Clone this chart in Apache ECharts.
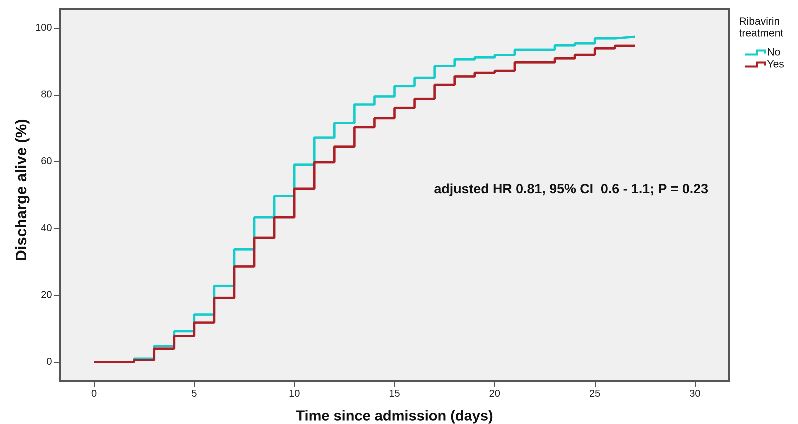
<!DOCTYPE html>
<html>
<head>
<meta charset="utf-8">
<script src="https://cdn.jsdelivr.net/npm/echarts@6/dist/echarts.min.js"></script>
<style>
  html, body { margin: 0; padding: 0; background: #fff; }
  #chart { width: 798px; height: 424px; }
</style>
</head>
<body>
<div id="chart"></div>
<script>
// time points (days) where the curves step
const days = [0, 2, 3, 4, 5, 6, 7, 8, 9, 10, 11, 12, 13, 14, 15, 16, 17, 18, 19, 20, 21, 23, 24, 25, 26, 27];
// cumulative discharge alive (%) — Ribavirin: No
const noValues = [0, 1.0, 4.8, 9.2, 14.2, 22.8, 33.7, 43.3, 49.7, 59.1, 67.2, 71.6, 77.1, 79.5, 82.6, 85.1, 88.6, 90.6, 91.2, 91.9, 93.5, 94.8, 95.4, 96.9, 97.4, 97.4];
// Ribavirin: Yes
const yesValues = [0, 0.6, 4.0, 7.8, 11.8, 19.2, 28.6, 37.2, 43.3, 51.9, 59.8, 64.5, 70.3, 73.0, 76.1, 78.8, 83.0, 85.5, 86.6, 87.2, 89.7, 90.9, 92.0, 93.9, 94.7, 94.7];
const xTicks = [0, 5, 10, 15, 20, 25, 30];
const yTicks = [0, 20, 40, 60, 80, 100];

const font = 'Arial, "Liberation Sans", sans-serif';
const stepIcon = 'path://M0,4 L11,4 L11,0 L21,0 L21,4 L19,4 L19,2 L13,2 L13,6 L0,6 Z';

// higher dpr so zrender doesn't swallow the tiny 1-2px steps
const chart = echarts.init(document.getElementById('chart'), null, { devicePixelRatio: 4 });
chart.setOption({
  animation: false,
  textStyle: { fontFamily: font },
  grid: {
    left: 60, right: 69, top: 9, bottom: 43,
    outerBoundsMode: 'none', containLabel: false,
    show: true, backgroundColor: '#F0F0F0', borderColor: '#555', borderWidth: 1.5,
  },
  legend: {
    orient: 'vertical',
    left: 740, top: 42,
    itemWidth: 21, itemHeight: 6, itemGap: 1,
    textStyle: { fontSize: 10.5, lineHeight: 11, color: '#111', padding: [0, 0, 0, -4] },
    data: [
      { name: 'No', icon: stepIcon },
      { name: 'Yes', icon: stepIcon },
    ],
  },
  graphic: [
    {
      type: 'text', left: 739, top: 16,
      style: { text: 'Ribavirin\ntreatment', font: '10.5px ' + font, fill: '#111', align: 'center', lineHeight: 11.7 },
    },
    {
      type: 'text', left: 434, top: 183,
      style: { text: 'adjusted HR 0.81, 95% CI  0.6 - 1.1; P = 0.23', font: 'bold 13.4px ' + font, fill: '#111' },
    },
  ],
  xAxis: {
    type: 'value', min: -1.7, max: 31.7,
    name: 'Time since admission (days)', nameLocation: 'middle', nameGap: 28, nameMoveOverlap: false,
    nameTextStyle: { fontSize: 14.5, fontWeight: 'bold', color: '#111' },
    axisLine: { show: true, onZero: false, lineStyle: { color: '#555', width: 1.5 } },
    axisTick: { show: true, length: 6, customValues: xTicks, lineStyle: { color: '#555' } },
    axisLabel: { customValues: xTicks, fontSize: 10, color: '#222', margin: 8 },
    splitLine: { show: false },
  },
  yAxis: {
    type: 'value', min: -5.7, max: 105.7,
    name: 'Discharge alive (%)', nameLocation: 'middle', nameGap: 30, nameMoveOverlap: false,
    nameTextStyle: { fontSize: 15.5, fontWeight: 'bold', color: '#111', padding: [0, 0, 0, 10] },
    axisLine: { show: true, onZero: false, lineStyle: { color: '#555', width: 1.5 } },
    axisTick: { show: true, length: 6, customValues: yTicks, lineStyle: { color: '#555' } },
    axisLabel: { customValues: yTicks, fontSize: 10, color: '#222', margin: 8 },
    splitLine: { show: false },
  },
  series: [
    {
      name: 'No', type: 'line', step: 'end', showSymbol: false, symbol: 'none',
      data: days.map((d, i) => [d, noValues[i]]),
      lineStyle: { color: '#14CCCC', width: 2.3 },
      itemStyle: { color: '#14CCCC' },
      z: 2,
    },
    {
      name: 'Yes', type: 'line', step: 'end', showSymbol: false, symbol: 'none',
      data: days.map((d, i) => [d, yesValues[i]]),
      lineStyle: { color: '#AD1F24', width: 2.3 },
      itemStyle: { color: '#AD1F24' },
      z: 3,
    },
  ],
});
</script>
</body>
</html>
